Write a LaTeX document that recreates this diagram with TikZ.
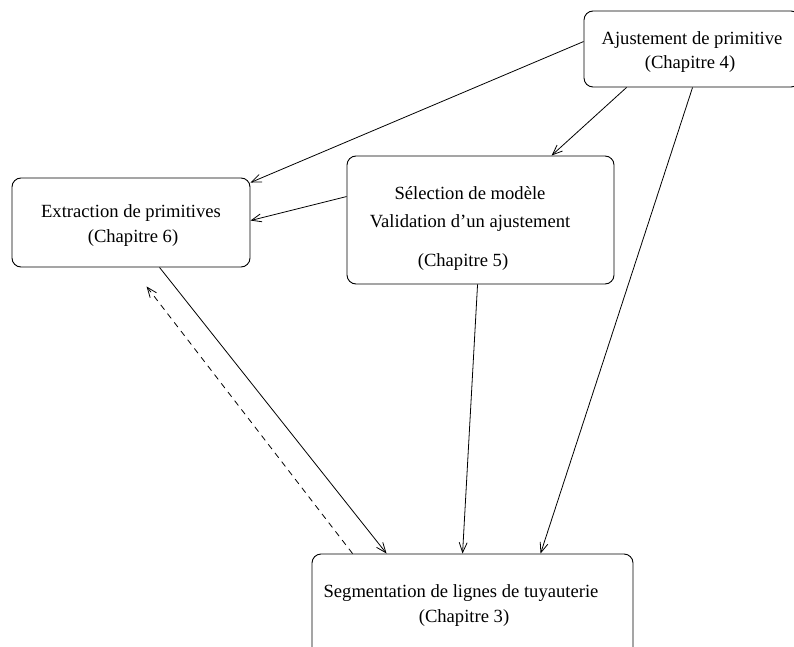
\documentclass[tikz,border=0pt]{standalone}
\usepackage{fontspec}
\setmainfont{Liberation Serif}
\usetikzlibrary{arrows.meta}
\begin{document}
\begin{tikzpicture}[x=1pt,y=1pt,
  box/.style={draw, line width=0.9pt, rounded corners=9pt, inner sep=0pt},
  lbl/.style={inner sep=0pt, font=\fontsize{18.6}{24}\selectfont},
  conn/.style={line width=0.8pt, -{Straight Barb[length=10pt,width=8pt,line width=0.8pt]}},
  dconn/.style={conn, dash pattern=on 6pt off 5pt}]
\useasboundingbox (0,0) rectangle (794,646);
\clip (0,0) rectangle (794,646);
% boxes
\node[box, minimum width=216pt, minimum height=76pt] (aj) at (692,597) {};
\node[box, minimum width=267pt, minimum height=128pt] (sel) at (480.5,426) {};
\node[box, minimum width=238pt, minimum height=89pt] (ext) at (131,423.5) {};
\node[box, minimum width=321pt, minimum height=146pt] (seg) at (472.5,19) {};
% texts
\node[lbl] (aj1) at (692,606) {Ajustement de primitive};
\node[lbl] (aj2) at (690,582) {(Chapitre 4)};
\node[lbl] (sel1) at (470,453) {Sélection de modèle};
\node[lbl] (sel2) at (470,423) {Validation d’un ajustement};
\node[lbl] (sel3) at (463,384) {(Chapitre 5)};
\node[lbl] (ext1) at (131,433) {Extraction de primitives};
\node[lbl] (ext2) at (133,408) {(Chapitre 6)};
\node[lbl] (seg1) at (461,53) {Segmentation de lignes de tuyauterie};
\node[lbl] (seg2) at (464,28) {(Chapitre 3)};
% connectors
\draw[conn] ([yshift=-31pt]aj.north west) -- ([yshift=-5pt]ext.north east);
\draw[conn] ([xshift=43pt]aj.south west) -- ([xshift=205pt]sel.north west);
\draw[conn] ([xshift=109pt]aj.south west) -- ([xshift=229pt]seg.north west);
\draw[conn] ([yshift=-41pt]sel.north west) -- ([yshift=-43pt]ext.north east);
\draw[conn] ([xshift=131pt]sel.south west) -- ([xshift=151pt]seg.north west);
\draw[conn] ([xshift=148pt]ext.south west) -- ([xshift=75pt]seg.north west);
\draw[dconn] ([xshift=41pt]seg.north west) -- ([xshift=135pt,yshift=-19pt]ext.south west);
\end{tikzpicture}
\end{document}
